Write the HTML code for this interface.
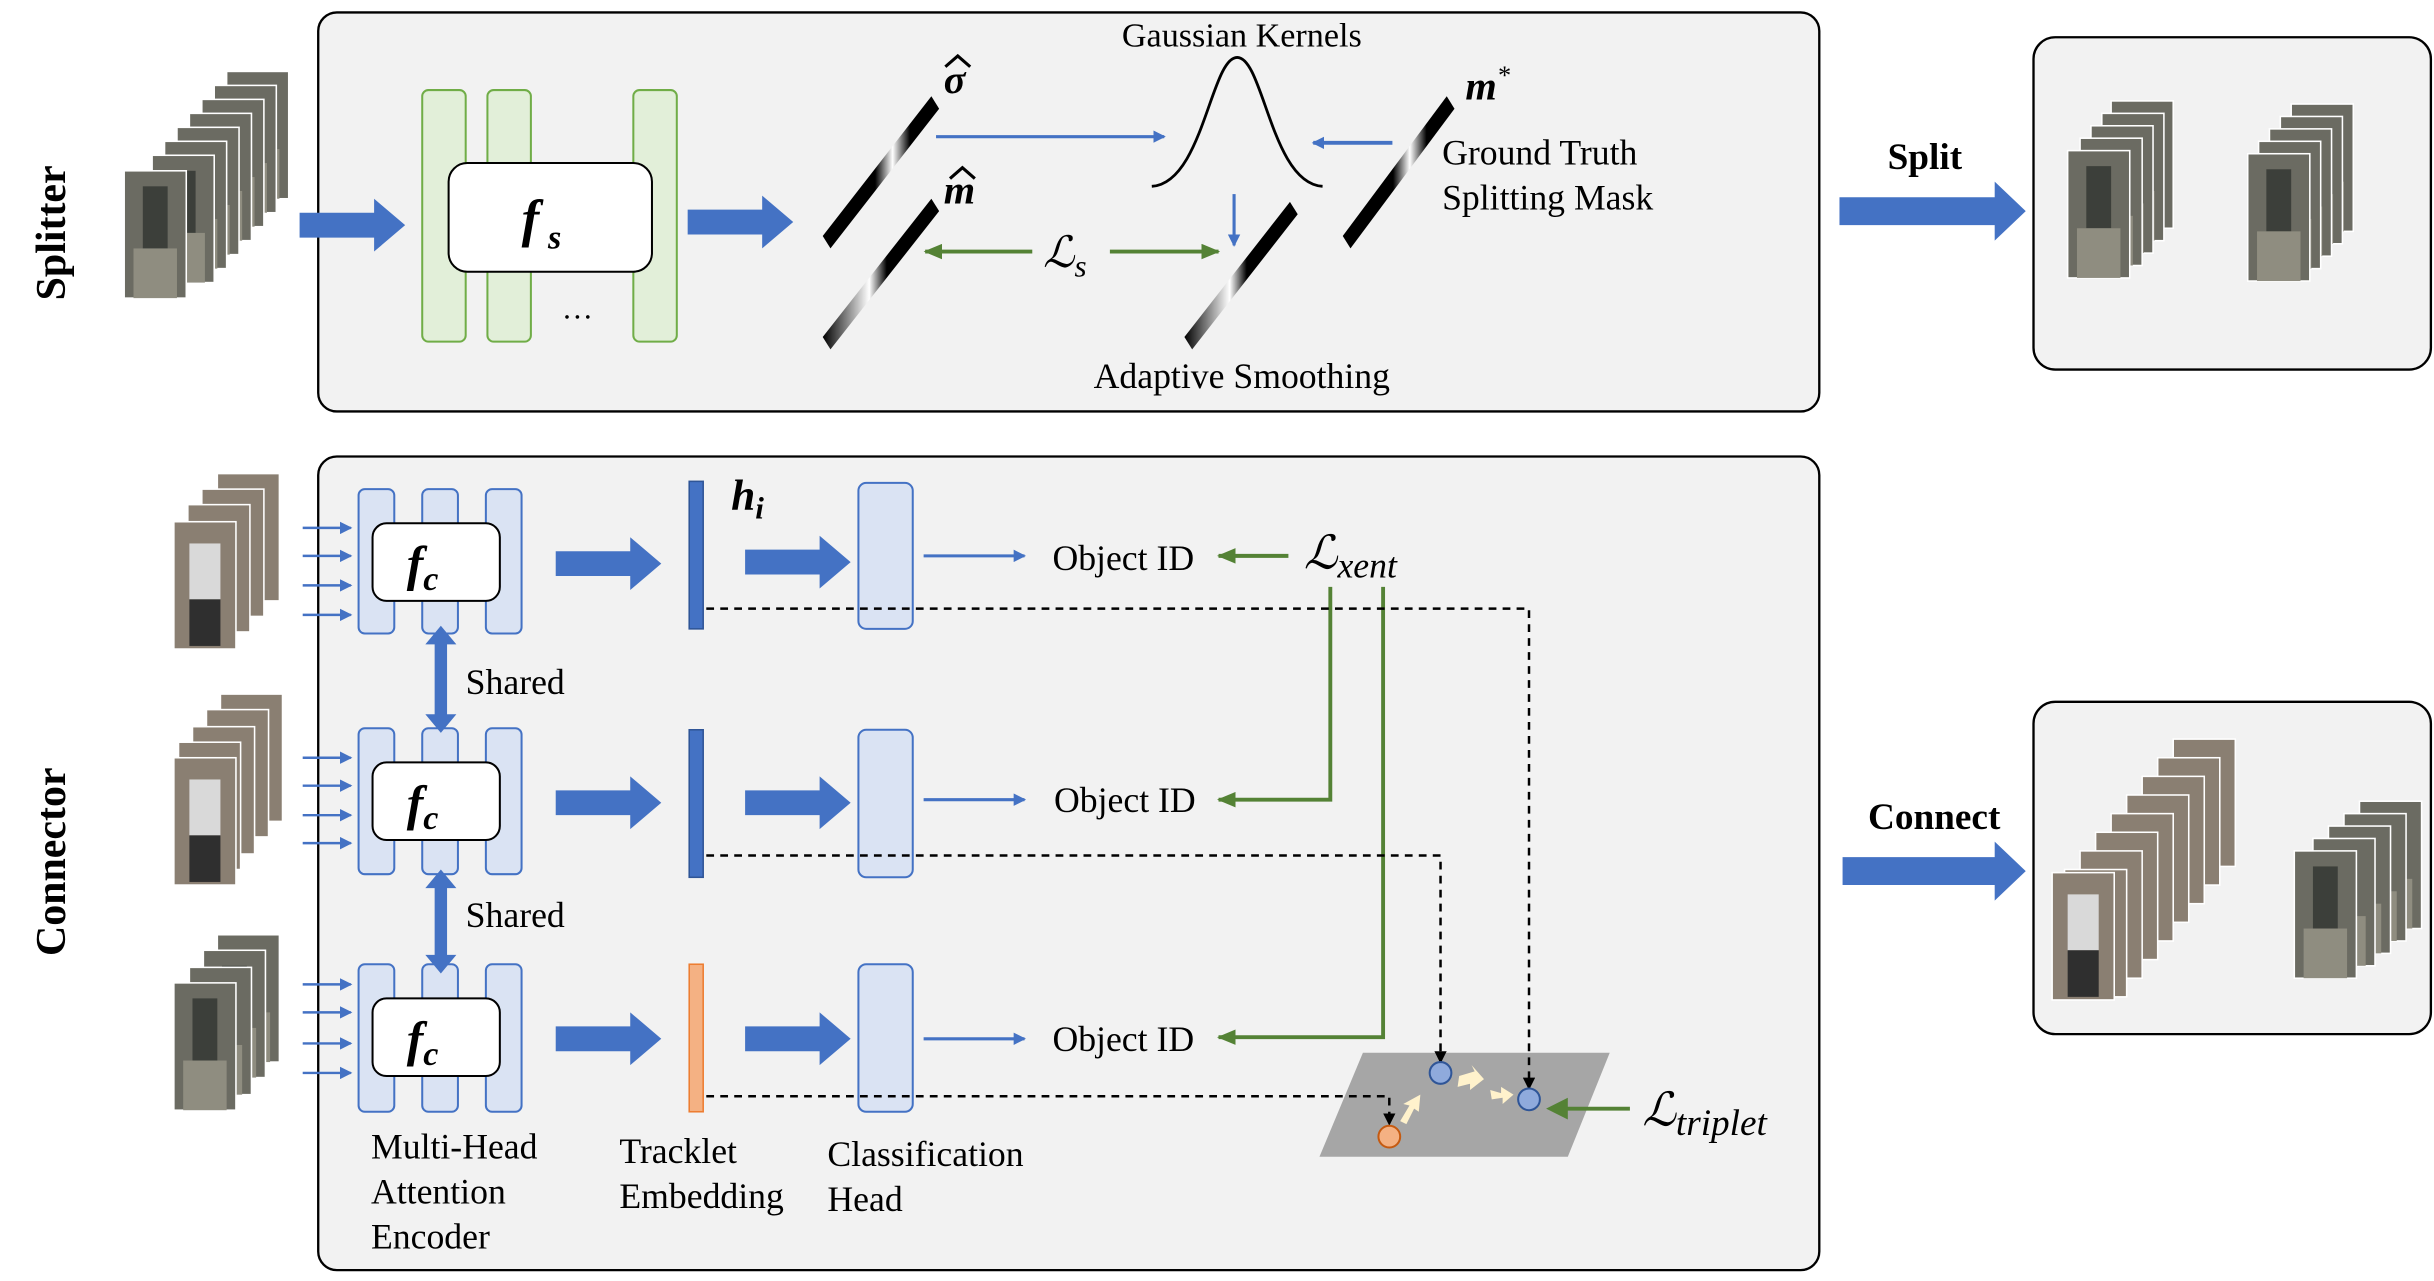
<!DOCTYPE html>
<html><head><meta charset="utf-8"><style>
html,body{margin:0;padding:0;background:#fff;}
svg{display:block;}
text{font-family:"Liberation Serif",serif;fill:#000;}
</style></head><body>
<svg width="2434" height="1281" viewBox="0 0 1568 825" preserveAspectRatio="none" xmlns="http://www.w3.org/2000/svg">
<defs>
<marker id="ab" markerWidth="8" markerHeight="8" refX="7" refY="4" orient="auto" markerUnits="userSpaceOnUse"><path d="M0,0 L8,4 L0,8 z" fill="#4472c4"/></marker>
<marker id="ag" markerWidth="12" markerHeight="10" refX="11" refY="5" orient="auto" markerUnits="userSpaceOnUse"><path d="M0,0 L12,5 L0,10 z" fill="#548235"/></marker>
<marker id="ak" markerWidth="8" markerHeight="8" refX="7" refY="4" orient="auto" markerUnits="userSpaceOnUse"><path d="M0,0 L8,4 L0,8 z" fill="#000"/></marker>
<linearGradient id="g1" x1="0" y1="0" x2="1" y2="0"><stop offset="0" stop-color="#000"/><stop offset="0.45" stop-color="#000"/><stop offset="0.6" stop-color="#fff"/><stop offset="0.75" stop-color="#000"/><stop offset="1" stop-color="#000"/></linearGradient>
<linearGradient id="g2" x1="0" y1="0" x2="1" y2="0"><stop offset="0" stop-color="#000"/><stop offset="0.4" stop-color="#fff"/><stop offset="0.55" stop-color="#000"/><stop offset="1" stop-color="#000"/></linearGradient>
<g id="barrow"><path d="M0,-8 L48,-8 L48,-17 L68,0 L48,17 L48,8 L0,8 z" fill="#4472c4"/></g>
<g id="frame"><rect width="40" height="82" fill="#6b6b62" stroke="#fff" stroke-width="1"/><rect x="12" y="10" width="16" height="40" fill="#3c3f3a"/><rect x="6" y="50" width="28" height="32" fill="#8f8d80"/></g>
<g id="frame2"><rect width="40" height="82" fill="#8a7f72" stroke="#fff" stroke-width="1"/><rect x="10" y="14" width="20" height="36" fill="#d9d9d9"/><rect x="10" y="50" width="20" height="30" fill="#2f2f2f"/></g>
</defs>

<!-- Splitter -->
<rect x="205" y="8" width="967" height="257" rx="12" fill="#f2f2f2" stroke="#000" stroke-width="1.5"/>
<rect x="1310" y="24" width="256" height="214" rx="14" fill="#f2f2f2" stroke="#000" stroke-width="1.5"/>
<text transform="translate(42,150) rotate(-90)" font-size="27" font-weight="bold" text-anchor="middle">Splitter</text>

<g>
<use href="#frame" x="146" y="46"/><use href="#frame" x="138" y="55"/><use href="#frame" x="130" y="64"/><use href="#frame" x="122" y="73"/><use href="#frame" x="114" y="82"/><use href="#frame" x="106" y="91"/><use href="#frame" x="98" y="100"/><use href="#frame" x="80" y="110"/>
</g>
<use href="#barrow" transform="translate(193,145)"/>
<rect x="272" y="58" width="28" height="162" rx="4" fill="#e2efd9" stroke="#70ad47" stroke-width="1.3"/>
<rect x="314" y="58" width="28" height="162" rx="4" fill="#e2efd9" stroke="#70ad47" stroke-width="1.3"/>
<rect x="408" y="58" width="28" height="162" rx="4" fill="#e2efd9" stroke="#70ad47" stroke-width="1.3"/>
<rect x="289" y="105" width="131" height="70" rx="12" fill="#fff" stroke="#000" stroke-width="1.3"/>
<text x="336" y="152" font-size="34" font-weight="bold" font-style="italic">f</text><text x="353" y="160" font-size="22" font-weight="bold" font-style="italic">s</text>
<text x="362" y="205" font-size="20">…</text>
<use href="#barrow" transform="translate(443,143)"/>

<polygon points="530,152 600,62 605,70 535,160" fill="url(#g1)"/>
<polygon points="530,217 600,128 605,136 535,225" fill="url(#g2)"/>
<polygon points="763,217 831,130 836,138 768,225" fill="url(#g2)"/>
<polygon points="865,152 932,62 937,70 870,160" fill="url(#g1)"/>

<text x="608" y="60" font-size="26" font-weight="bold" font-style="italic">σ</text>
<path d="M609,43 L617,36 L625,43" fill="none" stroke="#000" stroke-width="2"/>
<text x="608" y="131" font-size="26" font-weight="bold" font-style="italic">m</text>
<path d="M612,115 L620,108 L628,115" fill="none" stroke="#000" stroke-width="2"/>
<text x="944" y="64" font-size="26" font-weight="bold" font-style="italic">m<tspan font-size="17" dy="-10" font-weight="normal">*</tspan></text>
<text x="800" y="30" font-size="22" text-anchor="middle">Gaussian Kernels</text>
<text x="929" y="106" font-size="23">Ground Truth</text>
<text x="929" y="135" font-size="23">Splitting Mask</text>
<text x="800" y="250" font-size="23" text-anchor="middle">Adaptive Smoothing</text>
<text x="672" y="172" font-size="28" font-style="italic">ℒ<tspan font-size="20" dy="6">s</tspan></text>

<line x1="603" y1="88" x2="750" y2="88" stroke="#4472c4" stroke-width="2" marker-end="url(#ab)"/>
<path d="M742,120 C775,118 780,37 797,37 C814,37 819,118 852,120" fill="none" stroke="#000" stroke-width="1.8"/>
<line x1="897" y1="92" x2="846" y2="92" stroke="#4472c4" stroke-width="2.5" marker-end="url(#ab)"/>
<line x1="795" y1="125" x2="795" y2="158" stroke="#4472c4" stroke-width="2" marker-end="url(#ab)"/>
<line x1="665" y1="162" x2="596" y2="162" stroke="#548235" stroke-width="2.5" marker-end="url(#ag)"/>
<line x1="715" y1="162" x2="785" y2="162" stroke="#548235" stroke-width="2.5" marker-end="url(#ag)"/>

<path d="M1185,127 L1285,127 L1285,117 L1305,136 L1285,155 L1285,145 L1185,145 z" fill="#4472c4"/>
<text x="1240" y="109" font-size="24" font-weight="bold" text-anchor="middle">Split</text>
<g>
<use href="#frame" x="1360" y="65"/><use href="#frame" x="1354" y="73"/><use href="#frame" x="1347" y="81"/><use href="#frame" x="1340" y="89"/><use href="#frame" x="1332" y="97"/>
<use href="#frame" x="1476" y="67"/><use href="#frame" x="1469" y="75"/><use href="#frame" x="1462" y="83"/><use href="#frame" x="1455" y="91"/><use href="#frame" x="1448" y="99"/>
</g>

<!-- Connector -->
<rect x="205" y="294" width="967" height="524" rx="12" fill="#f2f2f2" stroke="#000" stroke-width="1.5"/>
<rect x="1310" y="452" width="256" height="214" rx="14" fill="#f2f2f2" stroke="#000" stroke-width="1.5"/>
<text transform="translate(42,555) rotate(-90)" font-size="27" font-weight="bold" text-anchor="middle">Connector</text>

<g>
<use href="#frame2" x="140" y="305"/><use href="#frame2" x="130" y="315"/><use href="#frame2" x="121" y="325"/><use href="#frame2" x="112" y="336"/>
<use href="#frame2" x="142" y="447"/><use href="#frame2" x="133" y="457"/><use href="#frame2" x="124" y="468"/><use href="#frame2" x="115" y="478"/><use href="#frame2" x="112" y="488"/>
<use href="#frame" x="140" y="602"/><use href="#frame" x="131" y="612"/><use href="#frame" x="122" y="623"/><use href="#frame" x="112" y="633"/>
</g>

<g stroke="#4472c4" stroke-width="1.6" marker-end="url(#ab)">
<line x1="195" y1="340" x2="226" y2="340"/><line x1="195" y1="358" x2="226" y2="358"/><line x1="195" y1="377" x2="226" y2="377"/><line x1="195" y1="396" x2="226" y2="396"/>
<line x1="195" y1="488" x2="226" y2="488"/><line x1="195" y1="506" x2="226" y2="506"/><line x1="195" y1="525" x2="226" y2="525"/><line x1="195" y1="543" x2="226" y2="543"/>
<line x1="195" y1="634" x2="226" y2="634"/><line x1="195" y1="652" x2="226" y2="652"/><line x1="195" y1="672" x2="226" y2="672"/><line x1="195" y1="691" x2="226" y2="691"/>
</g>

<g fill="#dae3f3" stroke="#4472c4" stroke-width="1.3">
<rect x="231" y="315" width="23" height="93" rx="4"/><rect x="272" y="315" width="23" height="93" rx="4"/><rect x="313" y="315" width="23" height="93" rx="4"/>
<rect x="231" y="469" width="23" height="94" rx="4"/><rect x="272" y="469" width="23" height="94" rx="4"/><rect x="313" y="469" width="23" height="94" rx="4"/>
<rect x="231" y="621" width="23" height="95" rx="4"/><rect x="272" y="621" width="23" height="95" rx="4"/><rect x="313" y="621" width="23" height="95" rx="4"/>
</g>
<g fill="#fff" stroke="#000" stroke-width="1.3">
<rect x="240" y="337" width="82" height="50" rx="9"/><rect x="240" y="491" width="82" height="50" rx="9"/><rect x="240" y="643" width="82" height="50" rx="9"/>
</g>
<g font-size="32" font-weight="bold" font-style="italic">
<text x="262" y="374">f<tspan font-size="22" dy="6">c</tspan></text>
<text x="262" y="528">f<tspan font-size="22" dy="6">c</tspan></text>
<text x="262" y="680">f<tspan font-size="22" dy="6">c</tspan></text>
</g>

<g fill="#4472c4">
<path d="M284,403 L294,415 L288,415 L288,460 L294,460 L284,472 L274,460 L280,460 L280,415 L274,415 z"/>
<path d="M284,560 L294,572 L288,572 L288,615 L294,615 L284,627 L274,615 L280,615 L280,572 L274,572 z"/>
</g>
<text x="300" y="447" font-size="23">Shared</text>
<text x="300" y="597" font-size="23">Shared</text>

<use href="#barrow" transform="translate(358,363)"/><use href="#barrow" transform="translate(358,517)"/><use href="#barrow" transform="translate(358,669)"/>
<rect x="444" y="310" width="9" height="95" fill="#4472c4" stroke="#2f5597"/>
<rect x="444" y="470" width="9" height="95" fill="#4472c4" stroke="#2f5597"/>
<rect x="444" y="621" width="9" height="95" fill="#f4b183" stroke="#ed7d31"/>
<text x="471" y="328" font-size="28" font-weight="bold" font-style="italic">h<tspan font-size="20" dy="6">i</tspan></text>
<use href="#barrow" transform="translate(480,362)"/><use href="#barrow" transform="translate(480,517)"/><use href="#barrow" transform="translate(480,669)"/>
<g fill="#dae3f3" stroke="#4472c4" stroke-width="1.3">
<rect x="553" y="311" width="35" height="94" rx="5"/><rect x="553" y="470" width="35" height="95" rx="5"/><rect x="553" y="621" width="35" height="95" rx="5"/>
</g>
<g stroke="#4472c4" stroke-width="2" marker-end="url(#ab)">
<line x1="595" y1="358" x2="660" y2="358"/><line x1="595" y1="515" x2="660" y2="515"/><line x1="595" y1="669" x2="660" y2="669"/>
</g>
<g font-size="23">
<text x="678" y="367">Object ID</text><text x="679" y="523">Object ID</text><text x="678" y="677">Object ID</text>
</g>
<text x="840" y="366" font-size="30" font-style="italic">ℒ<tspan font-size="23" dy="6">xent</tspan></text>
<g stroke="#548235" stroke-width="2.5" fill="none" marker-end="url(#ag)">
<line x1="830" y1="358" x2="785" y2="358"/>
<path d="M857,378 L857,515 L785,515"/>
<path d="M891,378 L891,668 L785,668"/>
</g>

<polygon points="878,678 1037,678 1010,745 850,745" fill="#a6a6a6"/>
<line x1="1050" y1="714" x2="1008" y2="714" stroke="#548235" stroke-width="2.5"/>
<path d="M996,714 L1010,707 L1010,721 z" fill="#548235"/>
<g stroke="#000" stroke-width="1.6" stroke-dasharray="5,4" fill="none" marker-end="url(#ak)">
<path d="M455,392 L985,392 L985,701"/>
<path d="M455,551 L928,551 L928,684"/>
<path d="M455,706 L895,706 L895,724"/>
</g>
<g fill="#fff2cc">
<path d="M940,693 L950,690 L948,686 L956,695 L947,702 L947,698 L939,700 z"/>
<path d="M975,705 L967,700 L967,704 L960,702 L961,708 L968,707 L968,711 z"/>
<path d="M902,722 L908,712 L904,711 L915,705 L914,716 L911,714 L906,724 z"/>
</g>
<circle cx="928" cy="691" r="7" fill="#8faadc" stroke="#2f5597" stroke-width="1.3"/>
<circle cx="985" cy="708" r="7" fill="#8faadc" stroke="#2f5597" stroke-width="1.3"/>
<circle cx="895" cy="732" r="7" fill="#f4b183" stroke="#c55a11" stroke-width="1.3"/>
<text x="1058" y="725" font-size="30" font-style="italic">ℒ<tspan font-size="24" dy="6">triplet</tspan></text>

<g font-size="23">
<text x="239" y="746">Multi-Head</text><text x="239" y="775">Attention</text><text x="239" y="804">Encoder</text>
<text x="399" y="749">Tracklet</text><text x="399" y="778">Embedding</text>
<text x="533" y="751">Classification</text><text x="533" y="780">Head</text>
</g>

<path d="M1187,552 L1285,552 L1285,542 L1305,561 L1285,580 L1285,570 L1187,570 z" fill="#4472c4"/>
<text x="1246" y="534" font-size="24" font-weight="bold" text-anchor="middle">Connect</text>
<g>
<use href="#frame2" x="1400" y="476"/><use href="#frame2" x="1390" y="488"/><use href="#frame2" x="1380" y="500"/><use href="#frame2" x="1370" y="512"/><use href="#frame2" x="1360" y="524"/><use href="#frame2" x="1350" y="536"/><use href="#frame2" x="1340" y="548"/><use href="#frame2" x="1330" y="560"/><use href="#frame2" x="1322" y="562"/>
<use href="#frame" x="1520" y="516"/><use href="#frame" x="1510" y="524"/><use href="#frame" x="1500" y="532"/><use href="#frame" x="1490" y="540"/><use href="#frame" x="1478" y="548"/>
</g>
</svg>
</body></html>
